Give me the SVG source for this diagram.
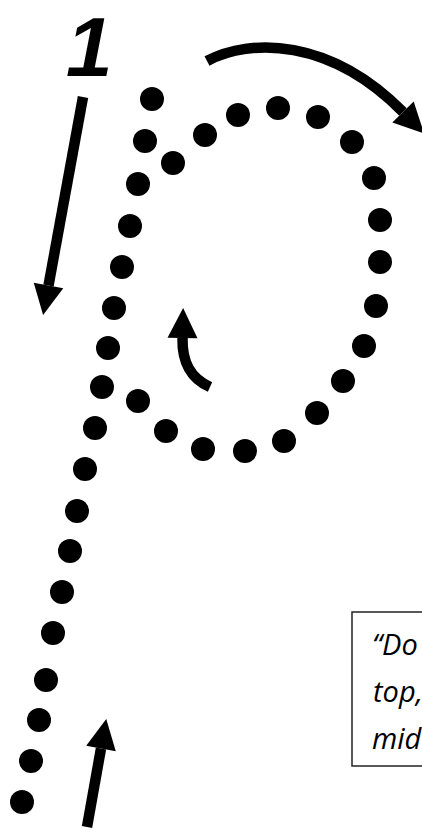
<svg xmlns="http://www.w3.org/2000/svg" width="422" height="832" viewBox="0 0 422 832">
  <defs>
    <marker id="head" markerUnits="userSpaceOnUse" markerWidth="32" markerHeight="32" viewBox="0 -16 32 32" refX="0" refY="0" orient="auto" overflow="visible">
      <path d="M0,-15 L30,0 L0,15 Z" fill="#000"/>
    </marker>
    <style>
      .dot { fill: #000; }
      .arrow { fill: none; stroke: #000; stroke-width: 10.5; stroke-linecap: butt; marker-end: url(#head); }
      .note-box { fill: #fff; stroke: #222; stroke-width: 1.5; }
      .note-text { font-family: "Open Sans", "Liberation Sans", sans-serif; font-style: italic; font-weight: 400; font-size: 29px; fill: #000; }
      .digit { font-family: "Liberation Sans", Arial, sans-serif; font-weight: bold; font-size: 84px; fill: #000; }
    </style>
  </defs>
  <rect width="422" height="832" fill="#fff"/>

  <g id="digit-1">
    <text class="digit" transform="translate(62,76) skewX(-11)" x="0" y="0">1</text>
  </g>

  <g id="dots-stem">
    <circle class="dot" cx="152" cy="99" r="12"/>
    <circle class="dot" cx="145" cy="141" r="12"/>
    <circle class="dot" cx="138" cy="184" r="12"/>
    <circle class="dot" cx="130" cy="226" r="12"/>
    <circle class="dot" cx="122" cy="267" r="12"/>
    <circle class="dot" cx="114" cy="308" r="12"/>
    <circle class="dot" cx="108" cy="348" r="12"/>
    <circle class="dot" cx="102" cy="387" r="12"/>
    <circle class="dot" cx="95" cy="428" r="12"/>
    <circle class="dot" cx="85" cy="469" r="12"/>
    <circle class="dot" cx="77" cy="511" r="12"/>
    <circle class="dot" cx="70" cy="551" r="12"/>
    <circle class="dot" cx="62" cy="592" r="12"/>
    <circle class="dot" cx="53" cy="633" r="12"/>
    <circle class="dot" cx="46" cy="680" r="12"/>
    <circle class="dot" cx="39" cy="720" r="12"/>
    <circle class="dot" cx="31" cy="761" r="12"/>
    <circle class="dot" cx="22" cy="802" r="12"/>
  </g>

  <g id="dots-bowl">
    <circle class="dot" cx="173" cy="163" r="12"/>
    <circle class="dot" cx="205" cy="135" r="12"/>
    <circle class="dot" cx="238" cy="115" r="12"/>
    <circle class="dot" cx="278" cy="108" r="12"/>
    <circle class="dot" cx="318" cy="117" r="12"/>
    <circle class="dot" cx="352" cy="142" r="12"/>
    <circle class="dot" cx="374" cy="178" r="12"/>
    <circle class="dot" cx="380" cy="220" r="12"/>
    <circle class="dot" cx="380" cy="262" r="12"/>
    <circle class="dot" cx="376" cy="306" r="12"/>
    <circle class="dot" cx="364" cy="346" r="12"/>
    <circle class="dot" cx="343" cy="381" r="12"/>
    <circle class="dot" cx="317" cy="413" r="12"/>
    <circle class="dot" cx="284" cy="441" r="12"/>
    <circle class="dot" cx="245" cy="451" r="12"/>
    <circle class="dot" cx="203" cy="449" r="12"/>
    <circle class="dot" cx="166" cy="431" r="12"/>
    <circle class="dot" cx="138" cy="401" r="12"/>
  </g>

  <g id="connectors">
    <path id="arrow-down" class="arrow" d="M83,97 L48.5,285.5"/>
    <path id="arrow-over" class="arrow" d="M207,61 C250,38 330,38 403,112"/>
    <path id="arrow-up-small" class="arrow" d="M210,387 C190,378 182,362 182.5,338"/>
    <path id="arrow-up" class="arrow" d="M87,827 L101,748.5"/>
  </g>

  <g id="note">
    <rect class="note-box" x="352" y="612" width="100" height="154"/>
    <text class="note-text" x="372" y="655">“Do</text>
    <text class="note-text" x="373" y="702">top,</text>
    <text class="note-text" x="372" y="749">mid</text>
  </g>
</svg>
